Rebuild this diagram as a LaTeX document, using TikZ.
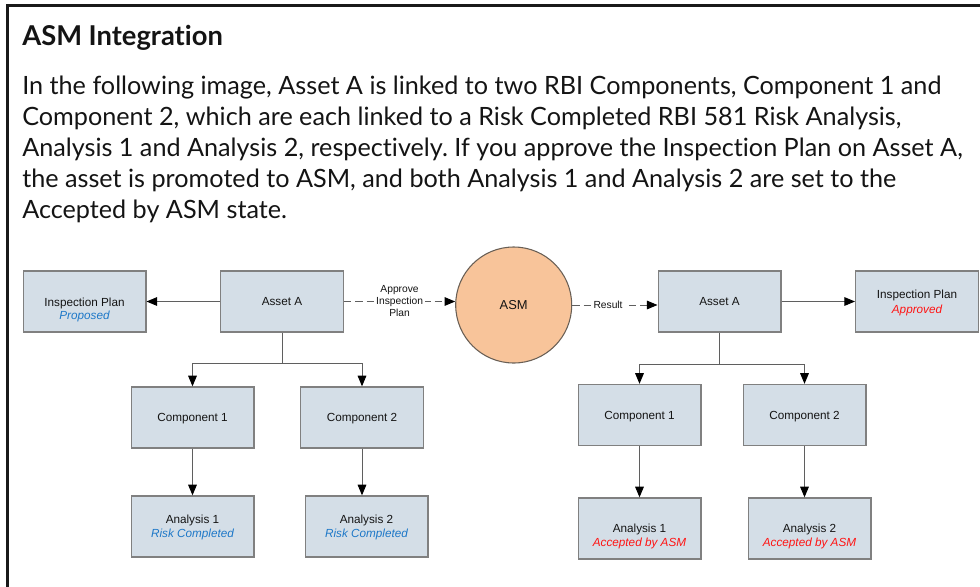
\documentclass[tikz,border=0pt]{standalone}
\usepackage{fontspec}
\setmainfont{Lato}[Ligatures=NoCommon]
\newfontfamily\diafont{Liberation Sans}
\usetikzlibrary{arrows.meta}
\frenchspacing

\definecolor{boxfill}{RGB}{212,222,231}
\definecolor{boxline}{RGB}{128,128,128}
\definecolor{asmfill}{RGB}{248,196,154}
\definecolor{asmline}{RGB}{105,95,85}
\definecolor{wire}{RGB}{95,95,95}
\definecolor{stateblue}{RGB}{30,120,200}
\definecolor{statered}{RGB}{255,20,20}
\definecolor{inktext}{RGB}{20,20,20}

\tikzset{
  box/.style={draw=boxline, line width=1pt, fill=boxfill, minimum width=92pt, minimum height=45.75pt,
    inner sep=0pt, text depth=0pt, text=inktext, font=\diafont\fontsize{8.8pt}{10pt}\selectfont},
  boxname/.style={anchor=base, inner sep=0pt, text=inktext, font=\diafont\fontsize{8.8pt}{10pt}\selectfont},
  boxstate/.style={anchor=base, inner sep=0pt, font=\diafont\itshape\fontsize{8.8pt}{10pt}\selectfont},
  asmcircle/.style={circle, draw=asmline, line width=0.8pt, fill=asmfill, minimum size=87pt, inner sep=0pt,
    text=inktext, font=\diafont\fontsize{9.7pt}{11pt}\selectfont},
  conn/.style={draw=wire, line width=0.75pt, -{Triangle[length=8pt,width=6.5pt,color=black]}},
  dashconn/.style={conn, dash pattern=on 5.5pt off 3pt},
  midlabel/.style={fill=white, inner sep=1.5pt, align=center, text=inktext,
    font=\diafont\fontsize{7.7pt}{9pt}\selectfont},
  bodyline/.style={anchor=base west, inner sep=0pt, text=inktext, font=\fontsize{18.9pt}{23pt}\selectfont}
}

\begin{document}
\begin{tikzpicture}[x=0.75pt,y=-0.75pt]
        \useasboundingbox (0,0) rectangle (980,586);
        \clip (0,0) rectangle (980,586);
        \draw[line width=2pt, color=black!90] (7.3,600) -- (7.3,5.3) -- (1000,5.3); %cornice

        %testo
        \node[bodyline, font=\bfseries\fontsize{20.5pt}{24pt}\selectfont] (title) at (22,45) {ASM Integration};
        \node[bodyline] (line1) at (22,94) {In the following image, Asset A is linked to two RBI Components, Component 1 and};
        \node[bodyline] (line2) at (22,125) {Component 2, which are each linked to a Risk Completed RBI 581 Risk Analysis,};
        \node[bodyline] (line3) at (22,156) {Analysis 1 and Analysis 2, respectively. If you approve the Inspection Plan on Asset A,};
        \node[bodyline] (line4) at (22,187) {the asset is promoted to ASM, and both Analysis 1 and Analysis 2 are set to the};
        \node[bodyline] (line5) at (22,218) {Accepted by ASM state.};

        %prima
        \node[box] (plan1) at (84.5,301.5) {};
        \node[boxname] (plan1-n) at (84.5,306) {Inspection Plan};
        \node[boxstate, text=stateblue] (plan1-s) at (84.5,319) {Proposed};
        \node[box] (assetL) at (282,301.5) {Asset A};
        \node[box] (comp1L) at (192.5,417.5) {Component 1};
        \node[box] (comp2L) at (362,417.5) {Component 2};
        \node[box] (ana1L) at (192.5,526.5) {};
        \node[boxname] (ana1L-n) at (192.5,523) {Analysis 1};
        \node[boxstate, text=stateblue] (ana1L-s) at (192.5,537) {Risk Completed};
        \node[box] (ana2L) at (366.5,526.5) {};
        \node[boxname] (ana2L-n) at (366.5,523) {Analysis 2};
        \node[boxstate, text=stateblue] (ana2L-s) at (366.5,537) {Risk Completed};

        \node[asmcircle] (asm) at (513.7,305) {ASM};

        %dopo
        \node[box] (assetR) at (719.5,301.5) {Asset A};
        \node[box] (plan2) at (917,301.5) {};
        \node[boxname] (plan2-n) at (917,298.5) {Inspection Plan};
        \node[boxstate, text=statered] (plan2-s) at (917,313) {Approved};
        \node[box] (comp1R) at (639.5,415) {Component 1};
        \node[box] (comp2R) at (804.5,415) {Component 2};
        \node[box] (ana1R) at (639.5,528.5) {};
        \node[boxname] (ana1R-n) at (639.5,532.5) {Analysis 1};
        \node[boxstate, text=statered] (ana1R-s) at (639.5,546.5) {Accepted by ASM};
        \node[box] (ana2R) at (809.5,528.5) {};
        \node[boxname] (ana2R-n) at (809.5,532.5) {Analysis 2};
        \node[boxstate, text=statered] (ana2R-s) at (809.5,546.5) {Accepted by ASM};

        %collegamenti prima
        \coordinate (forkL) at (282,363);
        \draw[conn] (assetL.west) -- (plan1.east);
        \draw[dashconn] (assetL.east) -- node[midlabel] (approve) {Approve\\Inspection\\Plan} (assetL.east -| asm.west);
        \draw[conn] (assetL.south) -- (forkL) -| (comp1L.north);
        \draw[conn] (forkL) -| (comp2L.north);
        \draw[conn] (comp1L.south) -- (ana1L.north);
        \draw[conn] (comp2L.south) -- (comp2L.south |- ana2L.north);

        %collegamenti dopo
        \coordinate (forkR) at (719.5,364);
        \draw[dashconn] (asm.east) -- node[midlabel, pos=0.42] (result) {Result} (asm.east -| assetR.west);
        \draw[conn] (assetR.east) -- (plan2.west);
        \draw[conn] (assetR.south) -- (forkR) -| (comp1R.north);
        \draw[conn] (forkR) -| (comp2R.north);
        \draw[conn] (comp1R.south) -- (ana1R.north);
        \draw[conn] (comp2R.south) -- (comp2R.south |- ana2R.north);
\end{tikzpicture}
\end{document}
